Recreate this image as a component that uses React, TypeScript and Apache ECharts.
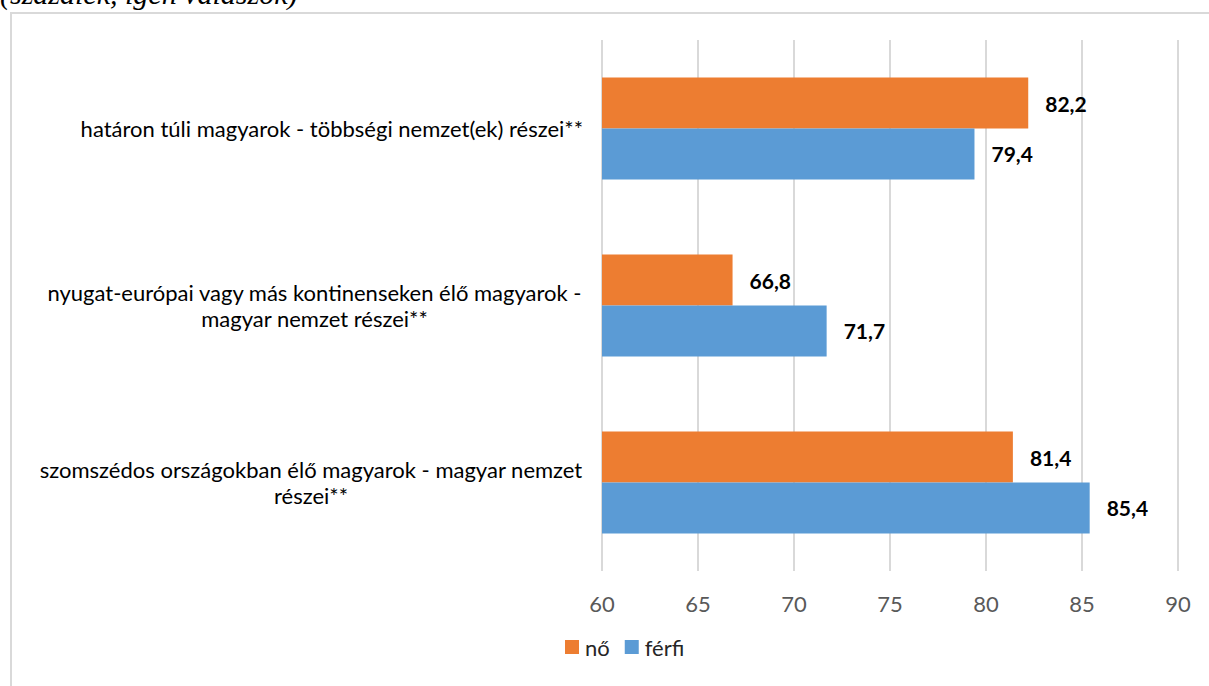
import React, { useEffect, useRef } from "react";
import * as echarts from "echarts";

const categories = [
  "határon túli magyarok - többségi nemzet(ek) részei**",
  "nyugat-európai vagy más kontinenseken élő magyarok -\nmagyar nemzet részei**",
  "szomszédos országokban élő magyarok - magyar nemzet\nrészei**",
];
const noValues = [82.2, 66.8, 81.4];
const ferfiValues = [79.4, 71.7, 85.4];
const seriesNames = ["nő", "férfi"];
const xTicks = { min: 60, max: 90, interval: 5 };
const titleText = "(százalék, igen válaszok)";

const FONT = "Lato";
const CAT_SIZE = 22;
const CAT_LH = 26.5;

export default function App() {
  const ref = useRef<HTMLDivElement>(null);
  useEffect(() => {
    document.body.style.margin = "0";
    const chart = echarts.init(ref.current!, undefined, { renderer: "svg" });
    const fmt = (p: any) => String(p.value).replace(".", ",");
    const labelStyle = {
      show: true,
      position: "right",
      distance: 17,
      formatter: fmt,
      color: "#000000",
      fontWeight: "bold",
      fontFamily: FONT,
      fontSize: 21,
    };
    const rs = (w: number) => ({
      width: w,
      align: "center",
      fontFamily: FONT,
      fontSize: CAT_SIZE,
      lineHeight: CAT_LH,
      color: "#000000",
    });
    chart.setOption({
      animation: false,
      backgroundColor: "#ffffff",
      grid: { left: 602, right: 31, top: 40, bottom: 115, containLabel: false },
      xAxis: {
        type: "value",
        min: xTicks.min,
        max: xTicks.max,
        interval: xTicks.interval,
        axisLine: { show: false },
        axisTick: { show: false },
        splitLine: { show: true, lineStyle: { color: "#d9d9d9", width: 2 } },
        axisLabel: { color: "#595959", fontSize: 22, fontFamily: FONT, margin: 21 },
      },
      yAxis: {
        type: "category",
        data: categories,
        inverse: true,
        axisLine: { show: false },
        axisTick: { show: false },
        axisLabel: {
          margin: 19,
          color: "#000000",
          fontFamily: FONT,
          fontSize: CAT_SIZE,
          lineHeight: CAT_LH,
          formatter: (v: string, idx: number) => {
            if (!v.includes("\n")) return v;
            const key = idx === 1 ? "a" : "b";
            return v
              .split("\n")
              .map((l) => `{${key}|${l}}`)
              .join("\n");
          },
          rich: { a: rs(537), b: rs(544) },
        },
      },
      legend: {
        bottom: 23,
        left: 560,
        icon: "rect",
        itemWidth: 14,
        itemHeight: 14,
        itemGap: 15,
        textStyle: { color: "#262626", fontFamily: FONT, fontSize: 22, padding: [0, 0, 0, 1] },
        data: seriesNames,
      },
      series: [
        {
          name: seriesNames[0],
          type: "bar",
          data: noValues,
          itemStyle: { color: "#ED7D31" },
          barGap: "0%",
          barCategoryGap: "42.5%",
          label: labelStyle,
        },
        {
          name: seriesNames[1],
          type: "bar",
          data: ferfiValues,
          itemStyle: { color: "#5B9BD5" },
          barGap: "0%",
          barCategoryGap: "42.5%",
          label: labelStyle,
        },
      ],
      graphic: [
        {
          type: "rect",
          shape: { x: 11, y: 13, width: 1400, height: 1000 },
          style: { fill: "none", stroke: "#d9d9d9", lineWidth: 2 },
          silent: true,
        },
        {
          type: "text",
          left: 0,
          top: -22,
          style: {
            text: titleText,
            font: "italic 30px 'Liberation Serif'",
            fill: "#000000",
          },
          silent: true,
        },
      ],
    });
    return () => chart.dispose();
  }, []);
  return <div ref={ref} style={{ width: 1209, height: 686 }} />;
}
